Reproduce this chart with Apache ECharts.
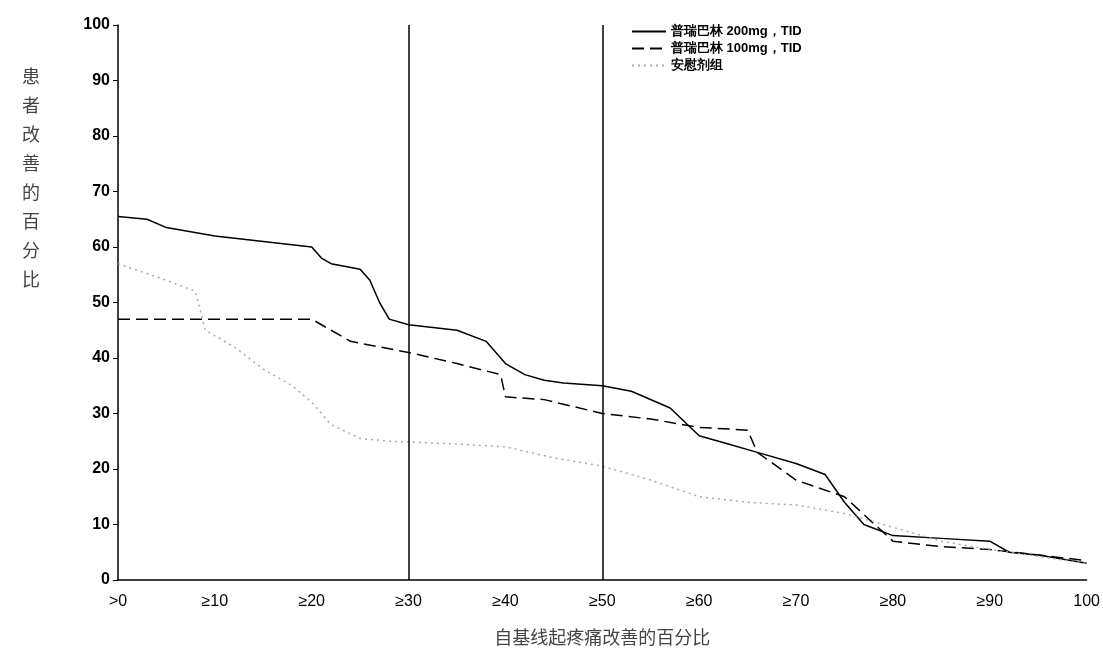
<!DOCTYPE html>
<html>
<head>
<meta charset="utf-8">
<script src="https://cdn.jsdelivr.net/npm/echarts@6/dist/echarts.min.js"></script>
<style>
  html, body { margin: 0; padding: 0; background: #fff; }
  #chart { width: 1103px; height: 668px; }
</style>
</head>
<body>
<div id="chart"></div>
<script>
const seriesNames = ['普瑞巴林 200mg，TID', '普瑞巴林 100mg，TID', '安慰剂组'];
const xTickLabels = ['>0', '≥10', '≥20', '≥30', '≥40', '≥50', '≥60', '≥70', '≥80', '≥90', '100'];
const refLines = [30, 50];

const dose200 = [[0,65.5],[3,65],[5,63.5],[10,62],[15,61],[20,60],[21,58],[22,57],[25,56],[26,54],[27,50],
  [28,47],[30,46],[35,45],[38,43],[40,39],[42,37],[44,36],[46,35.5],[50,35],[53,34],[57,31],[60,26],[63,24.5],
  [66,23],[70,21],[73,19],[75,14],[77,10],[80,8],[85,7.5],[90,7],[92,5],[95,4.5],[100,3]];
const dose100 = [[0,47],[20,47],[22,45],[24,43],[30,41],[35,39],[39.5,37],[40,33],[44,32.5],[50,30],[55,29],
  [60,27.5],[65,27],[66,23],[70,18],[75,15],[80,7],[85,6],[90,5.5],[95,4.5],[100,3.5]];
const placebo = [[0,57],[5,54],[8,52],[9,45],[12,42],[15,38],[18,35],[20,32],[22,28],[25,25.5],[28,25],
  [35,24.5],[40,24],[45,22],[50,20.5],[55,18],[60,15],[65,14],[70,13.5],[75,12],[80,9.5],[85,7],[90,5.5],[100,3]];

const chart = echarts.init(document.getElementById('chart'));
const font = 'Liberation Sans, Arial, sans-serif';
chart.setOption({
  animation: false,
  grid: { left: 118, right: 15, top: 25, bottom: 88 },
  graphic: [{
    type: 'text', left: 22, top: 62,
    style: { text: '患\n者\n改\n善\n的\n百\n分\n比', font: '18px "Noto Sans CJK SC"', fill: '#444', lineHeight: 29 }
  }],
  legend: {
    top: 20, left: 626, orient: 'vertical', itemGap: 4, itemWidth: 34, itemHeight: 10,
    itemStyle: { opacity: 0 },
    textStyle: { fontFamily: font, fontWeight: 'bold', fontSize: 13, color: '#000' },
    data: seriesNames
  },
  xAxis: {
    type: 'value', min: 0, max: 100, interval: 10,
    name: '自基线起疼痛改善的百分比', nameLocation: 'middle', nameGap: 48,
    nameTextStyle: { fontFamily: 'Noto Sans CJK SC', fontSize: 18, color: '#444' },
    axisLine: { lineStyle: { color: '#000', width: 1.5 } },
    axisTick: { show: false }, splitLine: { show: false },
    axisLabel: { formatter: v => xTickLabels[v / 10], margin: 14, fontFamily: font, fontSize: 16, color: '#000' }
  },
  yAxis: {
    type: 'value', min: 0, max: 100, interval: 10,
    axisLine: { show: true, lineStyle: { color: '#000', width: 1.5 } },
    axisTick: { show: true, length: 5, lineStyle: { color: '#000' } }, splitLine: { show: false },
    axisLabel: { fontFamily: font, fontSize: 16, fontWeight: 'bold', color: '#000' }
  },
  series: [
    { name: seriesNames[0], type: 'line', data: dose200, symbol: 'none',
      lineStyle: { color: '#000', width: 1.5 }, itemStyle: { color: '#000' },
      markLine: { symbol: 'none', silent: true, label: { show: false },
        lineStyle: { color: '#000', width: 1.5, type: 'solid' },
        data: refLines.map(x => ({ xAxis: x })) } },
    { name: seriesNames[1], type: 'line', data: dose100, symbol: 'none',
      lineStyle: { color: '#000', width: 1.5, type: [12, 6] }, itemStyle: { color: '#000' } },
    { name: seriesNames[2], type: 'line', data: placebo, symbol: 'none',
      lineStyle: { color: '#aaa', width: 1.5, type: [2, 4] }, itemStyle: { color: '#aaa' } }
  ]
});
</script>
</body>
</html>
